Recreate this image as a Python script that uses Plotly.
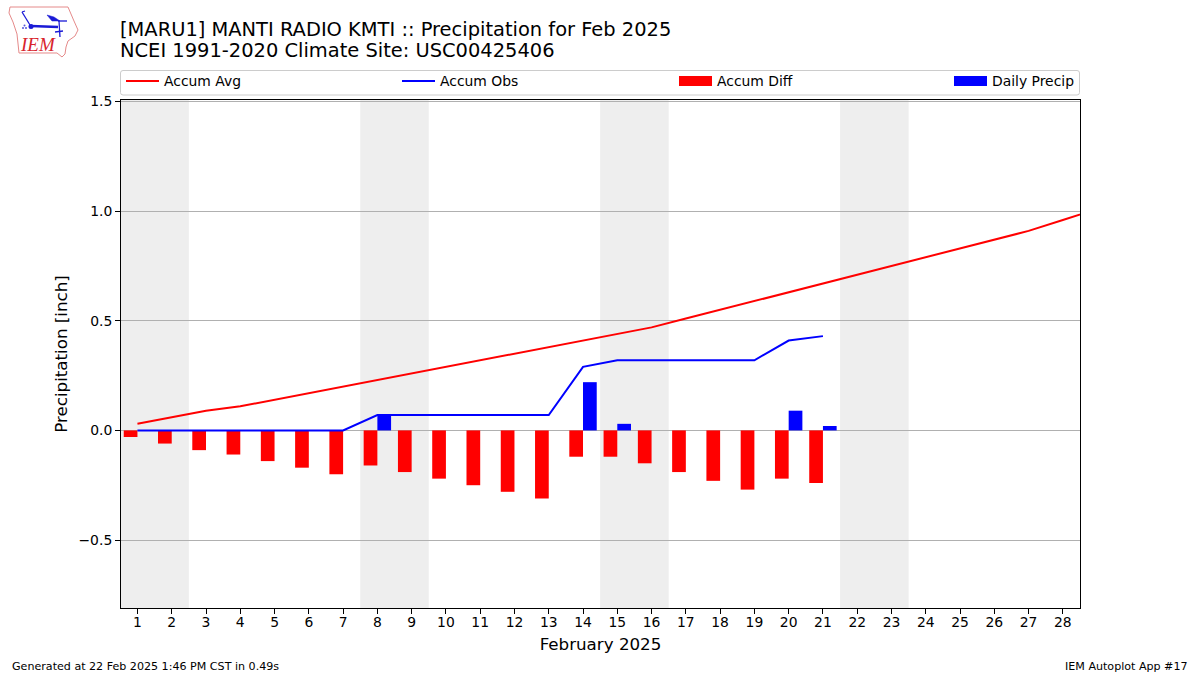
import plotly.graph_objects as go

DAYS = list(range(1, 30))
TICK_DAYS = list(range(1, 29))
ACCUM_AVG = [0.03, 0.06, 0.09, 0.11, 0.14, 0.17, 0.20, 0.23, 0.26, 0.29, 0.32, 0.35, 0.38, 0.41,
             0.44, 0.47, 0.51, 0.55, 0.59, 0.63, 0.67, 0.71, 0.75, 0.79, 0.83, 0.87, 0.91, 0.96, 1.01]
OBS_DAYS = list(range(1, 22))
ACCUM_OBS = [0, 0, 0, 0, 0, 0, 0, 0.07, 0.07, 0.07, 0.07, 0.07, 0.07, 0.29, 0.32, 0.32, 0.32, 0.32, 0.32, 0.41, 0.43]
ACCUM_DIFF = [-0.03, -0.06, -0.09, -0.11, -0.14, -0.17, -0.20, -0.16, -0.19, -0.22, -0.25, -0.28, -0.31,
              -0.12, -0.12, -0.15, -0.19, -0.23, -0.27, -0.22, -0.24]
DAILY_PRECIP = [0, 0, 0, 0, 0, 0, 0, 0.07, 0, 0, 0, 0, 0, 0.22, 0.03, 0, 0, 0, 0, 0.09, 0.02]
WEEKENDS = [(0.5, 2.5), (7.5, 9.5), (14.5, 16.5), (21.5, 23.5)]
Y_TICKS = [-0.5, 0, 0.5, 1.0, 1.5]

FONT = "DejaVu Sans"
W, H = 1200, 675
PL, PT, PW, PH = 121, 100, 959, 508


def px(x):
    return (x - PL) / PW


def py(y):
    return (PT + PH - y) / PH


fig = go.Figure()
fig.add_trace(go.Bar(x=OBS_DAYS, y=ACCUM_DIFF, name="Accum Diff", marker=dict(color="#ff0000", line_width=0),
                     width=0.4, offset=-0.4, showlegend=False))
fig.add_trace(go.Bar(x=OBS_DAYS, y=DAILY_PRECIP, name="Daily Precip", marker=dict(color="#0000ff", line_width=0),
                     width=0.4, offset=0, showlegend=False))
fig.add_trace(go.Scatter(x=DAYS, y=ACCUM_AVG, mode="lines", name="Accum Avg",
                         line=dict(color="#ff0000", width=2), legend="legend"))
fig.add_trace(go.Scatter(x=OBS_DAYS, y=ACCUM_OBS, mode="lines", name="Accum Obs",
                         line=dict(color="#0000ff", width=2), legend="legend2"))
# legend swatches for the two bar series
fig.add_trace(go.Scatter(x=[None], y=[None], mode="lines", name="Accum Diff",
                         line=dict(color="#ff0000", width=10), legend="legend3"))
fig.add_trace(go.Scatter(x=[None], y=[None], mode="lines", name="Daily Precip",
                         line=dict(color="#0000ff", width=10), legend="legend4"))

shapes = []
for a, b in WEEKENDS:
    shapes.append(dict(type="rect", xref="x", yref="paper", x0=a, x1=b, y0=0, y1=1,
                       fillcolor="#eeeeee", line_width=0, layer="below"))


def logo_path(points, close=False):
    s = "M" + " L".join(f"{px(x):.5f},{py(y):.5f}" for x, y in points)
    return s + (" Z" if close else "")


LOGO_OUTLINE = [(10, 7), (68, 7), (71, 14), (74, 21), (78, 30), (75, 36), (68, 41), (66, 47), (65, 54), (62, 57),
                (57, 53), (19, 53), (17, 34), (13, 22), (9, 13)]
LOGO_LINES = [
    ([(31, 26), (58, 27)], 2.5),
    ([(58, 21), (67, 21)], 1.3),
    ([(59, 21), (60, 37)], 1.3),
    ([(22, 12), (30, 25)], 1.3),
    ([(22, 12), (25, 11)], 1.3),
    ([(55, 32), (63, 31)], 1.3),
]
LOGO_FLAG = [(47, 15), (54, 17), (60, 21), (52, 21)]

shapes.append(dict(type="path", xref="paper", yref="paper", path=logo_path(LOGO_OUTLINE, True),
                   line=dict(color="#e58a8a", width=1), fillcolor="rgba(0,0,0,0)"))
for pts, lw in LOGO_LINES:
    shapes.append(dict(type="path", xref="paper", yref="paper", path=logo_path(pts),
                       line=dict(color="#1a1ad6", width=lw)))
shapes.append(dict(type="path", xref="paper", yref="paper", path=logo_path(LOGO_FLAG, True),
                   line=dict(color="#1a1ad6", width=0.5), fillcolor="#1a1ad6"))
shapes.append(dict(type="circle", xref="paper", yref="paper", x0=px(28.5), x1=px(33.5), y0=py(29), y1=py(24),
                   fillcolor="#1a1ad6", line_width=0))
for cx, cy in [(23, 28), (26, 28), (24.5, 25.5)]:
    shapes.append(dict(type="circle", xref="paper", yref="paper", x0=px(cx - 1), x1=px(cx + 1),
                       y0=py(cy + 1), y1=py(cy - 1), fillcolor="#5555dd", line_width=0))

# legend frame
fx0, fx1, fy0, fy1, rr = 120.5, 1079.5, 70.5, 95, 2.5
frame = (f"M{px(fx0 + rr):.5f},{py(fy0):.5f} L{px(fx1 - rr):.5f},{py(fy0):.5f} "
         f"Q{px(fx1):.5f},{py(fy0):.5f} {px(fx1):.5f},{py(fy0 + rr):.5f} "
         f"L{px(fx1):.5f},{py(fy1 - rr):.5f} Q{px(fx1):.5f},{py(fy1):.5f} {px(fx1 - rr):.5f},{py(fy1):.5f} "
         f"L{px(fx0 + rr):.5f},{py(fy1):.5f} Q{px(fx0):.5f},{py(fy1):.5f} {px(fx0):.5f},{py(fy1 - rr):.5f} "
         f"L{px(fx0):.5f},{py(fy0 + rr):.5f} Q{px(fx0):.5f},{py(fy0):.5f} {px(fx0 + rr):.5f},{py(fy0):.5f} Z")
shapes.append(dict(type="path", xref="paper", yref="paper", path=frame,
                   line=dict(color="#cccccc", width=1), fillcolor="white"))


def note(text, x, y, xanchor="left", size=11.1, family=FONT, color="#000000"):
    return dict(text=text, x=px(x), y=py(y), xref="paper", yref="paper", showarrow=False, xanchor=xanchor,
                yanchor="middle", font=dict(family=family, size=size, color=color),
                borderpad=0, borderwidth=0)


annotations = [
    note("<i>IEM</i>", 37.5, 45, "center", 19, family="Liberation Serif", color="#d8242c"),
    note("[MARU1] MANTI RADIO KMTI :: Precipitation for Feb 2025", 120, 29, size=19.44),
    note("NCEI 1991-2020 Climate Site: USC00425406", 120, 51, size=19.44),
    note("Generated at 22 Feb 2025 1:46 PM CST in 0.49s", 12, 666),
    note("IEM Autoplot App #17", 1188, 666, "right"),
]


def legend_at(x):
    return dict(x=px(x), xanchor="left", y=py(81.5), yanchor="middle", orientation="h", itemwidth=33,
                bgcolor="rgba(0,0,0,0)", borderwidth=0, font=dict(family=FONT, size=13.9),
                itemclick=False, itemdoubleclick=False)


fig.update_layout(
    width=W, height=H, autosize=False,
    margin=dict(l=PL, r=W - PL - PW, t=PT, b=H - PT - PH, pad=0),
    paper_bgcolor="white", plot_bgcolor="white",
    font=dict(family=FONT, size=13.9, color="#000000"),
    barmode="overlay", showlegend=True,
    shapes=shapes, annotations=annotations,
    legend=legend_at(121), legend2=legend_at(397), legend3=legend_at(674), legend4=legend_at(949),
    xaxis=dict(range=[0.52, 28.5], tickmode="array", tickvals=TICK_DAYS, ticktext=[str(d) for d in TICK_DAYS],
               ticks="outside", ticklen=5, tickwidth=1, tickcolor="#000000", showgrid=False, zeroline=False,
               showline=True, linecolor="#000000", linewidth=1, mirror=True, ticklabelstandoff=-4,
               title=dict(text="February 2025", font=dict(family=FONT, size=16.7), standoff=9),
               tickfont=dict(family=FONT, size=13.9)),
    yaxis=dict(range=[-0.81, 1.507], tickmode="array", tickvals=Y_TICKS, tickformat=".1f",
               ticks="outside", ticklen=5, tickwidth=1, tickcolor="#000000",
               showgrid=True, gridcolor="#b0b0b0", gridwidth=1, zeroline=False,
               showline=True, linecolor="#000000", linewidth=1, mirror=True,
               title=dict(text="Precipitation [inch]", font=dict(family=FONT, size=16.7), standoff=6),
               tickfont=dict(family=FONT, size=13.9)),
)

fig.write_html("out.html", config=dict(displayModeBar=False),
               post_script="document.body.style.margin='0';document.documentElement.style.overflow='hidden';")
